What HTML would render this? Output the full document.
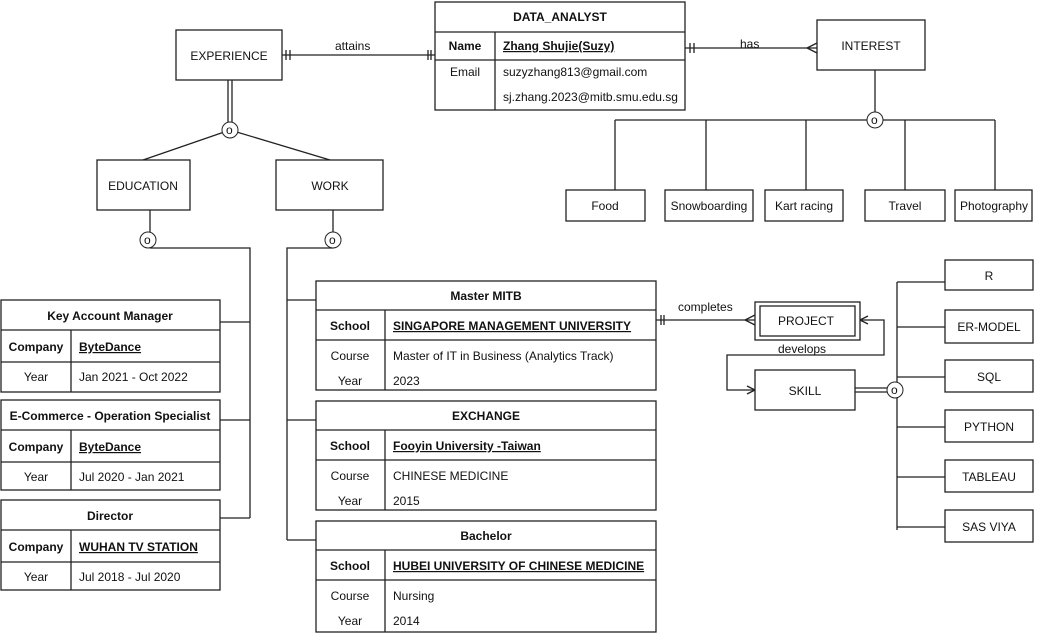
<!DOCTYPE html>
<html><head><meta charset="utf-8"><style>
body{margin:0;background:#fff;}
svg{display:block;font-family:"Liberation Sans",sans-serif;}
text{font-size:12px;fill:#111;}
.b{font-weight:bold;}
rect{fill:#fff;stroke:#222;stroke-width:1.3;}
line,path,polyline{stroke:#222;stroke-width:1.3;fill:none;}
</style></head><body>
<svg width="1047" height="643" viewBox="0 0 1047 643">
<!-- connectors -->
<line x1="282" y1="55" x2="435" y2="55"/><text x="335" y="50">attains</text>
<path d="M286 50 v10 M290 50 v10 M428 50 v10 M431 50 v10"/>
<line x1="685" y1="48" x2="817" y2="48"/><text x="740" y="48">has</text>
<path d="M690 43 v10 M694 43 v10 M817 43 l-10 5 l10 5"/>
<!-- interest tree -->
<line x1="875" y1="70" x2="875" y2="120"/>
<line x1="615" y1="120" x2="995" y2="120"/>
<path d="M615 120 v70 M706 120 v70 M806 120 v70 M905 120 v70 M995 120 v70"/>
<circle cx="875" cy="120" r="8" fill="#fff" stroke="#222"/><text x="871" y="124" font-size="10">o</text>
<!-- experience tree -->
<path d="M228 80 v50 M232 80 v50"/>
<path d="M230 130 L143 160 M230 130 L330 160"/>
<circle cx="230" cy="130" r="8" fill="#fff" stroke="#222"/><text x="226" y="134" font-size="10">o</text>
<!-- education branch -->
<path d="M150 210 v30 M150 248 h100 v270 M220 322 h30 M220 420 h30 M220 518 h30"/>
<circle cx="148" cy="240" r="8" fill="#fff" stroke="#222"/><text x="144" y="244" font-size="10">o</text>
<!-- work branch -->
<path d="M333 210 v30 M333 248 h-46 v292 M287 300 h29 M287 420 h29 M287 540 h29"/>
<circle cx="333" cy="240" r="8" fill="#fff" stroke="#222"/><text x="329" y="244" font-size="10">o</text>
<!-- project/skill -->
<line x1="656" y1="320" x2="755" y2="320"/><text x="678" y="311">completes</text>
<path d="M661 315 v10 M664 315 v10 M755 315 l-10 5 l10 5"/>
<path d="M860 320 h24 v35 h-157 v35 h28"/><text x="778" y="353">develops</text>
<path d="M860 320 l8 -4 M860 320 l8 4 M755 390 l-8 -4 M755 390 l-8 4"/>
<path d="M855 388 h40 M855 392 h40"/>
<path d="M897 282 v248 M897 282 h48 M897 327 h48 M897 377 h48 M897 427 h48 M897 477 h48 M897 527 h48"/>
<circle cx="895" cy="390" r="8" fill="#fff" stroke="#222"/><text x="891" y="394" font-size="10">o</text>

<!-- DATA_ANALYST -->
<rect x="435" y="2" width="250" height="108"/>
<line x1="435" y1="32" x2="685" y2="32"/><line x1="435" y1="60" x2="685" y2="60"/>
<line x1="495" y1="32" x2="495" y2="110"/>
<text x="560" y="21" class="b" text-anchor="middle">DATA_ANALYST</text>
<text x="465" y="50" class="b" text-anchor="middle">Name</text>
<text x="503" y="50" class="b" text-decoration="underline">Zhang Shujie(Suzy)</text>
<text x="465" y="76" text-anchor="middle">Email</text>
<text x="503" y="76">suzyzhang813@gmail.com</text>
<text x="503" y="101">sj.zhang.2023@mitb.smu.edu.sg</text>

<rect x="176" y="30" width="106" height="50"/><text x="229" y="60" text-anchor="middle">EXPERIENCE</text>
<rect x="817" y="20" width="108" height="50"/><text x="871" y="50" text-anchor="middle">INTEREST</text>
<rect x="97" y="160" width="93" height="50"/><text x="143" y="190" text-anchor="middle">EDUCATION</text>
<rect x="276" y="160" width="107" height="50"/><text x="330" y="190" text-anchor="middle">WORK</text>

<rect x="566" y="190" width="79" height="31"/><text x="605" y="210" text-anchor="middle">Food</text>
<rect x="665" y="190" width="88" height="31"/><text x="709" y="210" text-anchor="middle">Snowboarding</text>
<rect x="765" y="190" width="78" height="31"/><text x="804" y="210" text-anchor="middle">Kart racing</text>
<rect x="865" y="190" width="80" height="31"/><text x="905" y="210" text-anchor="middle">Travel</text>
<rect x="955" y="190" width="77" height="31"/><text x="994" y="210" text-anchor="middle">Photography</text>

<!-- job tables -->
<g>
<rect x="1" y="300" width="219" height="92"/><line x1="1" y1="330" x2="220" y2="330"/><line x1="1" y1="362" x2="220" y2="362"/><line x1="71" y1="330" x2="71" y2="392"/>
<text x="110" y="320" class="b" text-anchor="middle">Key Account Manager</text>
<text x="36" y="351" class="b" text-anchor="middle">Company</text><text x="79" y="351" class="b" text-decoration="underline">ByteDance</text>
<text x="36" y="381" text-anchor="middle">Year</text><text x="79" y="381">Jan 2021 - Oct 2022</text>
</g>
<g>
<rect x="1" y="400" width="219" height="90"/><line x1="1" y1="430" x2="220" y2="430"/><line x1="1" y1="462" x2="220" y2="462"/><line x1="71" y1="430" x2="71" y2="490"/>
<text x="110" y="420" class="b" text-anchor="middle">E-Commerce - Operation Specialist</text>
<text x="36" y="451" class="b" text-anchor="middle">Company</text><text x="79" y="451" class="b" text-decoration="underline">ByteDance</text>
<text x="36" y="481" text-anchor="middle">Year</text><text x="79" y="481">Jul 2020 - Jan 2021</text>
</g>
<g>
<rect x="1" y="500" width="219" height="90"/><line x1="1" y1="530" x2="220" y2="530"/><line x1="1" y1="562" x2="220" y2="562"/><line x1="71" y1="530" x2="71" y2="590"/>
<text x="110" y="520" class="b" text-anchor="middle">Director</text>
<text x="36" y="551" class="b" text-anchor="middle">Company</text><text x="79" y="551" class="b" text-decoration="underline">WUHAN TV STATION</text>
<text x="36" y="581" text-anchor="middle">Year</text><text x="79" y="581">Jul 2018 - Jul 2020</text>
</g>

<!-- edu tables -->
<g>
<rect x="316" y="281" width="340" height="109"/><line x1="316" y1="310" x2="656" y2="310"/><line x1="316" y1="340" x2="656" y2="340"/><line x1="385" y1="310" x2="385" y2="390"/>
<text x="486" y="300" class="b" text-anchor="middle">Master MITB</text>
<text x="350" y="330" class="b" text-anchor="middle">School</text><text x="393" y="330" class="b" text-decoration="underline">SINGAPORE MANAGEMENT UNIVERSITY</text>
<text x="350" y="360" text-anchor="middle">Course</text><text x="393" y="360">Master of IT in Business (Analytics Track)</text>
<text x="350" y="385" text-anchor="middle">Year</text><text x="393" y="385">2023</text>
</g>
<g>
<rect x="316" y="401" width="340" height="109"/><line x1="316" y1="430" x2="656" y2="430"/><line x1="316" y1="460" x2="656" y2="460"/><line x1="385" y1="430" x2="385" y2="510"/>
<text x="486" y="420" class="b" text-anchor="middle">EXCHANGE</text>
<text x="350" y="450" class="b" text-anchor="middle">School</text><text x="393" y="450" class="b" text-decoration="underline">Fooyin University -Taiwan</text>
<text x="350" y="480" text-anchor="middle">Course</text><text x="393" y="480">CHINESE MEDICINE</text>
<text x="350" y="505" text-anchor="middle">Year</text><text x="393" y="505">2015</text>
</g>
<g>
<rect x="316" y="521" width="340" height="111"/><line x1="316" y1="550" x2="656" y2="550"/><line x1="316" y1="580" x2="656" y2="580"/><line x1="385" y1="550" x2="385" y2="632"/>
<text x="486" y="540" class="b" text-anchor="middle">Bachelor</text>
<text x="350" y="570" class="b" text-anchor="middle">School</text><text x="393" y="570" class="b" text-decoration="underline">HUBEI UNIVERSITY OF CHINESE MEDICINE</text>
<text x="350" y="600" text-anchor="middle">Course</text><text x="393" y="600">Nursing</text>
<text x="350" y="625" text-anchor="middle">Year</text><text x="393" y="625">2014</text>
</g>

<!-- project / skill -->
<rect x="755" y="302" width="105" height="38"/><rect x="760" y="306" width="95" height="30"/>
<text x="806" y="325" text-anchor="middle">PROJECT</text>
<rect x="755" y="370" width="100" height="40"/><text x="805" y="395" text-anchor="middle">SKILL</text>

<rect x="945" y="260" width="88" height="30"/><text x="989" y="280" text-anchor="middle">R</text>
<rect x="945" y="310" width="88" height="33"/><text x="989" y="331" text-anchor="middle">ER-MODEL</text>
<rect x="945" y="360" width="88" height="32"/><text x="989" y="381" text-anchor="middle">SQL</text>
<rect x="945" y="410" width="88" height="32"/><text x="989" y="431" text-anchor="middle">PYTHON</text>
<rect x="945" y="460" width="88" height="32"/><text x="989" y="481" text-anchor="middle">TABLEAU</text>
<rect x="945" y="510" width="88" height="32"/><text x="989" y="531" text-anchor="middle">SAS VIYA</text>
</svg>
</body></html>
